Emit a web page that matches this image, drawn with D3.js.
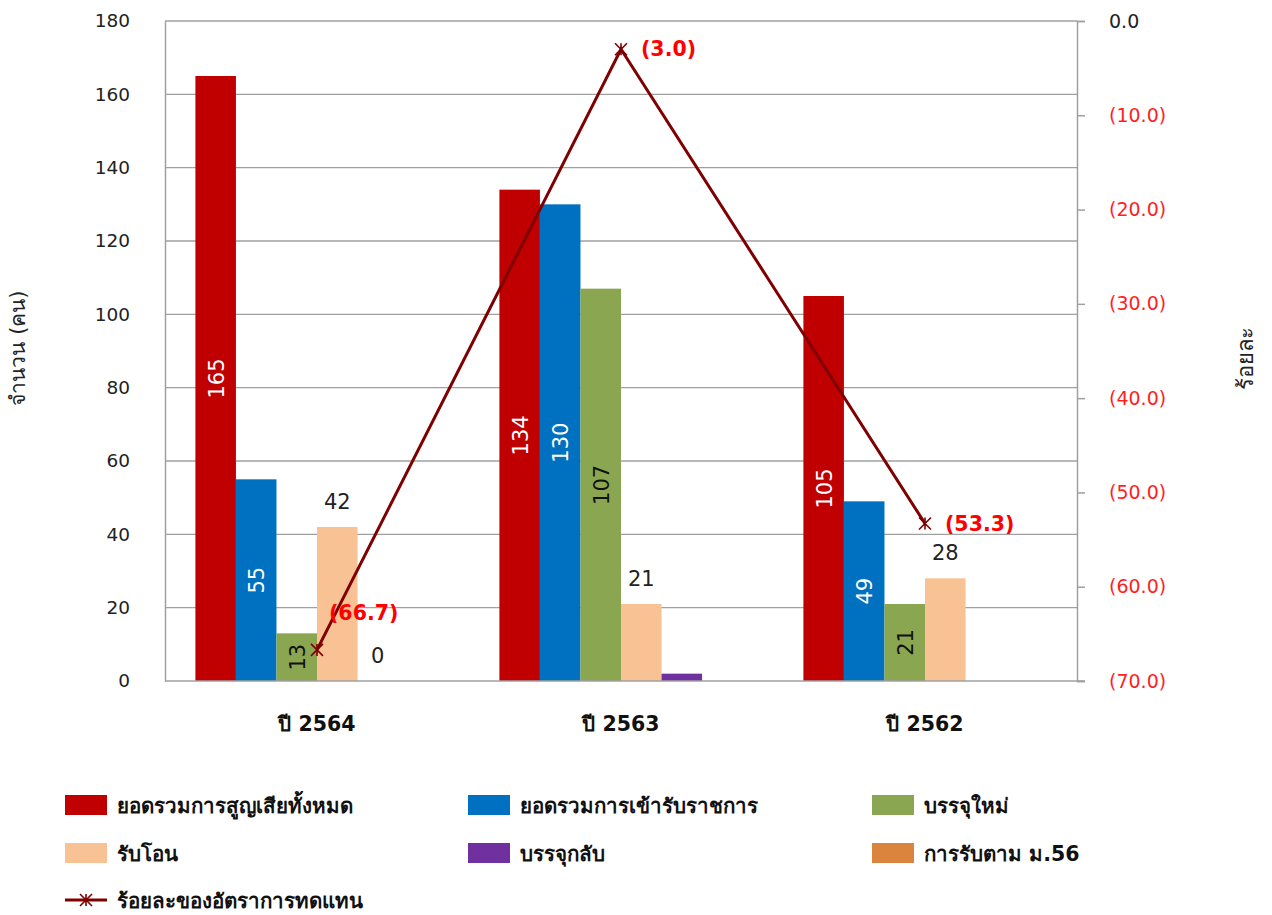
<!DOCTYPE html>
<html><head><meta charset="utf-8">
<script src="https://cdn.jsdelivr.net/npm/d3@7"></script>
<style>
body{margin:0;background:#fff;}
svg{display:block;font-family:"DejaVu Sans","Noto Sans",sans-serif;}
</style></head>
<body><svg id="c" width="1272" height="915"></svg>
<script>
const categories = ["ปี 2564","ปี 2563","ปี 2562"];
const seriesNames = ["ยอดรวมการสูญเสียทั้งหมด","ยอดรวมการเข้ารับราชการ","บรรจุใหม่","รับโอน","บรรจุกลับ","การรับตาม ม.56"];
const seriesColors = ["#C00000","#0070C0","#8BA650","#F9C294","#7030A0","#DB843D"];
const lossTotal = [165,134,105];
const entryTotal = [55,130,49];
const newHire = [13,107,21];
const transferIn = [42,21,28];
const reinstated = [0,2,0];
const section56 = [0,0,0];
const replacementRate = [-66.7,-3.0,-53.3];
const lineName = "ร้อยละของอัตราการทดแทน";
const leftTicks = [0,20,40,60,80,100,120,140,160,180];
const rightTicks = [0,-10,-20,-30,-40,-50,-60,-70];

const seriesValues = [lossTotal,entryTotal,newHire,transferIn,reinstated,section56];
const labelMode = [
  ["in","in","in"],
  ["in","in","in"],
  ["in","in","in"],
  ["top","top","top"],
  ["top","none","none"],
  ["none","none","none"]
];

const svg = d3.select("#c");
const L=165, R=1077, T=21, B=681;
const x0 = d3.scaleBand().domain(categories).range([L,R]);
const x1 = d3.scaleBand().domain(d3.range(seriesNames.length)).range([0,x0.bandwidth()]).paddingOuter(0.75);
const y = d3.scaleLinear().domain([0,180]).range([B,T]);
const y2 = d3.scaleLinear().domain([-70,0]).range([B,T]);
const grid="#A0A0A0";

svg.append("g").selectAll("line").data(leftTicks.filter(d=>d>0)).join("line")
  .attr("x1",L).attr("x2",R).attr("y1",d=>y(d)).attr("y2",d=>y(d))
  .attr("stroke",grid).attr("stroke-width",1.3);

const la = svg.append("g").attr("transform",`translate(${L},0)`)
  .call(d3.axisLeft(y).tickValues(leftTicks).tickSize(0).tickPadding(35));
la.select(".domain").attr("stroke",grid).attr("stroke-width",1.5);
la.selectAll("text").attr("font-size",18.5).attr("fill","#222").attr("font-family","DejaVu Sans");

const bars = svg.append("g");
seriesValues.forEach((vals,si)=>{
  bars.selectAll(null).data(vals).join("rect")
    .attr("x",(d,i)=>x0(categories[i])+x1(si))
    .attr("width",x1.bandwidth())
    .attr("y",d=>y(d)).attr("height",d=>B-y(d))
    .attr("fill",seriesColors[si]);
});

svg.append("line").attr("x1",L).attr("x2",R+8).attr("y1",B).attr("y2",B)
  .attr("stroke",grid).attr("stroke-width",1.5);

const ra = svg.append("g").attr("transform",`translate(${R},0)`)
  .call(d3.axisRight(y2).tickValues(rightTicks).tickSize(8).tickPadding(24)
    .tickFormat(d=>d===0?"0.0":"("+Math.abs(d).toFixed(1)+")"));
ra.select(".domain").attr("stroke",grid).attr("stroke-width",1.5);
ra.selectAll(".tick line").attr("stroke",grid).attr("stroke-width",1.5);
ra.selectAll("text").attr("font-size",19).attr("font-family","DejaVu Sans")
  .attr("fill",d=>d===0?"#222":"#FF1F1F");

const lab = svg.append("g").attr("font-size",21);
seriesValues.forEach((vals,si)=>{
  vals.forEach((v,i)=>{
    const mode = labelMode[si][i];
    const cx = x0(categories[i])+x1(si)+x1.bandwidth()/2;
    if(mode==="in"){
      const cy = (y(v)+B)/2;
      lab.append("text").attr("transform",`translate(${cx+8},${cy}) rotate(-90)`)
        .attr("text-anchor","middle").attr("fill",si===2?"#111":"#fff").text(v);
    } else if(mode==="top"){
      lab.append("text").attr("x",cx).attr("y",y(v)-18).attr("text-anchor","middle")
        .attr("fill","#222").text(v);
    }
  });
});

const xc = c=>x0(c)+x0.bandwidth()/2;
const lineColor="#7F0000";
svg.append("path").datum(replacementRate)
  .attr("d",d3.line().x((d,i)=>xc(categories[i])).y(d=>y2(d)))
  .attr("fill","none").attr("stroke",lineColor).attr("stroke-width",3);
function star(g,cx,cy,s){
  g.append("path").attr("d",`M${cx-s},${cy-s}L${cx+s},${cy+s}M${cx-s},${cy+s}L${cx+s},${cy-s}M${cx},${cy-s}L${cx},${cy+s}`)
    .attr("stroke",lineColor).attr("stroke-width",1.6).attr("fill","none");
}
const mk = svg.append("g");
replacementRate.forEach((v,i)=>star(mk,xc(categories[i]),y2(v),6));
const lineLabelOffset = [[12,-30],[20,7],[20,7]];
replacementRate.forEach((v,i)=>{
  svg.append("text").attr("x",xc(categories[i])+lineLabelOffset[i][0]).attr("y",y2(v)+lineLabelOffset[i][1])
    .attr("font-size",20.5).attr("font-weight","bold").attr("fill","#FF0000")
    .text("("+Math.abs(v).toFixed(1)+")");
});

svg.append("g").selectAll("text").data(categories).join("text")
  .attr("x",d=>xc(d)).attr("y",731).attr("text-anchor","middle")
  .attr("font-size",20.5).attr("font-weight","bold").attr("fill","#111").text(d=>d);

svg.append("text").attr("transform","translate(25,348) rotate(-90)").attr("text-anchor","middle")
  .attr("font-size",21).attr("fill","#222").text("จำนวน (คน)");
svg.append("text").attr("transform","translate(1253,358) rotate(-90)").attr("text-anchor","middle")
  .attr("font-size",22).attr("fill","#222").text("ร้อยละ");

const lg = svg.append("g");
const colX=[65,468,872], rowY=[805,853,900];
seriesNames.forEach((n,i)=>{
  const cx=colX[i%3], cy=rowY[Math.floor(i/3)];
  lg.append("rect").attr("x",cx).attr("y",cy-10).attr("width",42).attr("height",20).attr("fill",seriesColors[i]);
  lg.append("text").attr("x",cx+52).attr("y",cy+8).attr("font-size",20.5).attr("font-weight","bold").attr("fill","#111").text(n);
});
{
  const cx=colX[0], cy=rowY[2];
  lg.append("line").attr("x1",cx).attr("x2",cx+42).attr("y1",cy).attr("y2",cy).attr("stroke",lineColor).attr("stroke-width",3);
  star(lg,cx+21,cy,6);
  lg.append("text").attr("x",cx+52).attr("y",cy+8).attr("font-size",20.5).attr("font-weight","bold").attr("fill","#111").text(lineName);
}
</script></body></html>
